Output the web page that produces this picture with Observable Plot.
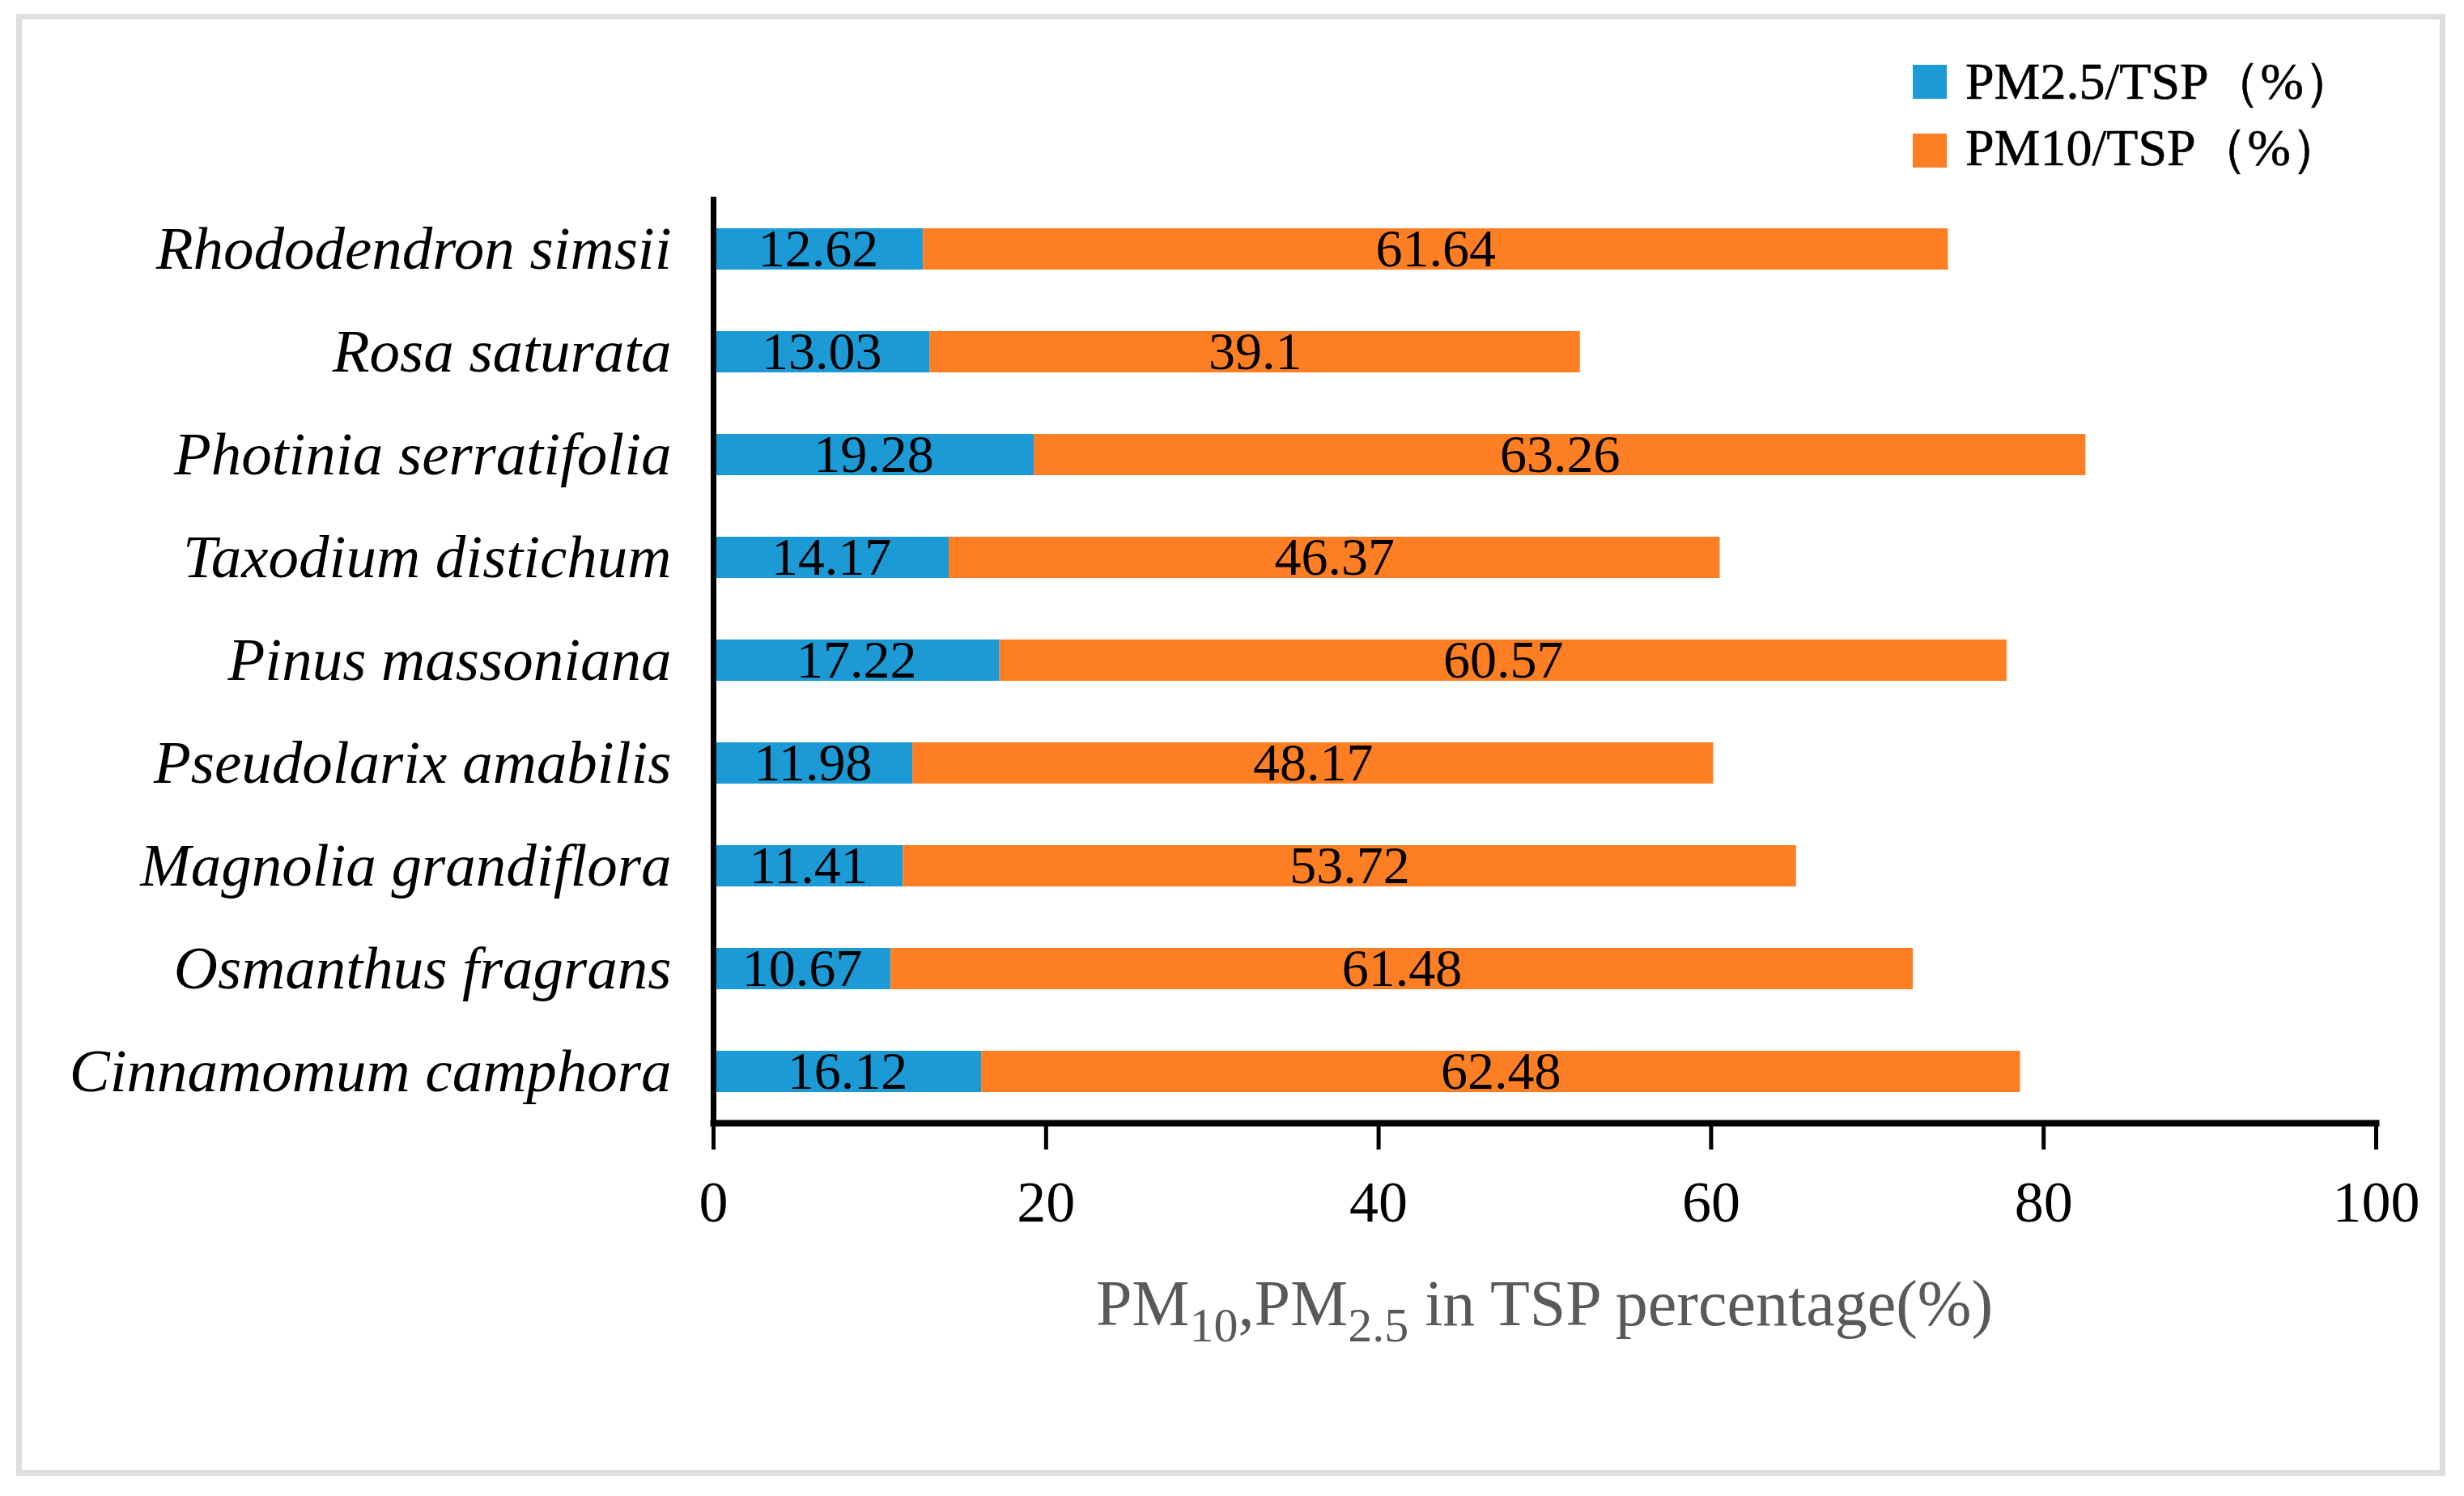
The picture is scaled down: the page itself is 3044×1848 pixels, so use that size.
<!DOCTYPE html>
<html>
<head>
<meta charset="utf-8">
<script src="https://cdn.jsdelivr.net/npm/d3@7"></script>
<script src="https://cdn.jsdelivr.net/npm/@observablehq/plot@0.6"></script>
<style>
  html, body { margin: 0; padding: 0; background: #fff; }
  #wrap { position: relative; width: 3044px; height: 1848px; overflow: hidden; font-family: "Liberation Serif", "Times New Roman", serif; }
  #wrap svg { position: absolute; left: 0; top: 0; }
  #border { position: absolute; left: 20px; top: 17px; width: 3001px; height: 1806px; border: 7px solid #dedede; box-sizing: border-box; pointer-events: none; }
  .lg-sq { position: absolute; width: 42px; height: 42px; }
  .lg-tx { position: absolute; font-size: 64px; line-height: 64px; color: #000; white-space: nowrap; -webkit-text-stroke: 0.6px #000; }
  #xtitle { position: absolute; left: 408px; width: 3000px; top: 1570px; text-align: center; font-size: 80px; line-height: 80px; color: #595959; white-space: nowrap; }
  #xtitle sub { font-size: 0.75em; vertical-align: -20px; line-height: 0; }
  g[aria-label="y-axis tick label"] text { font-style: italic; }
</style>
</head>
<body>
<div id="wrap"></div>
<script>
const species = [
  "Rhododendron simsii",
  "Rosa saturata",
  "Photinia serratifolia",
  "Taxodium distichum",
  "Pinus massoniana",
  "Pseudolarix amabilis",
  "Magnolia grandiflora",
  "Osmanthus fragrans",
  "Cinnamomum camphora"
];
const seriesNames = ["PM2.5/TSP（%）", "PM10/TSP（%）"];
const pm25 = [12.62, 13.03, 19.28, 14.17, 17.22, 11.98, 11.41, 10.67, 16.12];
const pm10 = [61.64, 39.1, 63.26, 46.37, 60.57, 48.17, 53.72, 61.48, 62.48];
const xTicks = [0, 20, 40, 60, 80, 100];
const colors = ["#1b9ad6", "#fd7e23"];

const data = [];
species.forEach((s, i) => {
  data.push({species: s, series: seriesNames[0], value: pm25[i]});
  data.push({species: s, series: seriesNames[1], value: pm10[i]});
});

const chart = Plot.plot({
  width: 3044,
  height: 1848,
  marginLeft: 881,
  marginRight: 109,
  marginTop: 243,
  marginBottom: 461,
  style: {background: "white", fontFamily: "'Liberation Serif', 'Times New Roman', serif", color: "black", overflow: "visible"},
  x: {domain: [0, 100], label: null},
  y: {domain: species, paddingInner: 0.6, paddingOuter: 0.3, label: null},
  color: {domain: seriesNames, range: colors},
  marks: [
    Plot.barX(data, {x: "value", y: "species", fill: "series"}),
    Plot.text(data, Plot.stackX({x: "value", y: "species", z: "series", text: d => String(d.value), fontSize: 66, fill: "black"})),
    Plot.ruleX([0], {stroke: "black", strokeWidth: 7}),
    Plot.frame({anchor: "bottom", stroke: "black", strokeWidth: 8}),
    Plot.axisX({ticks: xTicks, tickSize: 33, tickPadding: 37, fontSize: 72, strokeWidth: 5, label: null, tickFormat: d => String(d)}),
    Plot.axisY({tickSize: 0, tickPadding: 52, fontSize: 75, fontStyle: "italic", label: null})
  ]
});

const wrap = document.getElementById("wrap");
wrap.appendChild(chart);

// legend
const lgTop = [80, 165];
const txTop = [69, 151];
seriesNames.forEach((name, i) => {
  const sq = document.createElement("div");
  sq.className = "lg-sq";
  sq.style.left = "2363px";
  sq.style.top = lgTop[i] + "px";
  sq.style.background = colors[i];
  wrap.appendChild(sq);
  const tx = document.createElement("div");
  tx.className = "lg-tx";
  tx.style.left = "2428px";
  tx.style.top = txTop[i] + "px";
  tx.textContent = name;
  wrap.appendChild(tx);
});

// x-axis title with subscripts
const title = document.createElement("div");
title.id = "xtitle";
title.innerHTML = "PM<sub>10</sub>,PM<sub>2.5</sub> in TSP percentage(%)";
wrap.appendChild(title);

const border = document.createElement("div");
border.id = "border";
wrap.appendChild(border);
</script>
</body>
</html>
